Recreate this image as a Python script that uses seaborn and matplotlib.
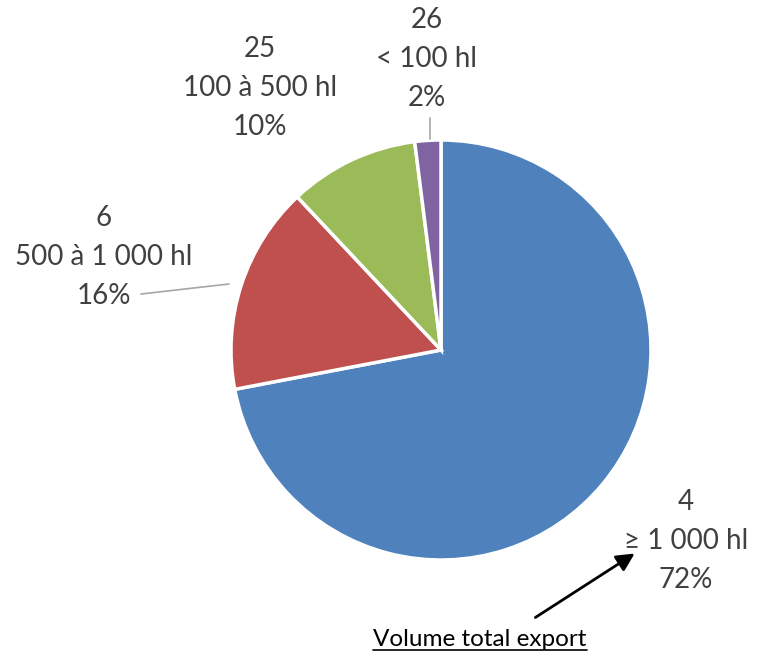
import matplotlib
matplotlib.use("Agg")
import matplotlib.pyplot as plt
import seaborn as sns

sns.set_theme(style="white")
plt.rcParams['font.family'] = ['Lato', 'DejaVu Sans']

counts = [4, 6, 25, 26]
categories = ["≥ 1 000 hl", "500 à 1 000 hl", "100 à 500 hl", "< 100 hl"]
shares = [72, 16, 10, 2]
colors = ["#4F81BD", "#C0504D", "#9BBB59", "#8064A2"]

W, H = 760, 657
fig = plt.figure(figsize=(W / 100, H / 100), dpi=100)
ax = fig.add_axes([0, 0, 1, 1])
ax.set_xlim(0, W)
ax.set_ylim(0, H)
ax.set_aspect("equal")
ax.axis("off")

cx, cy, r = 441, H - 350, 210
ax.pie(shares, colors=colors, startangle=90, counterclock=False,
       center=(cx, cy), radius=r, frame=True,
       wedgeprops=dict(edgecolor="white", linewidth=2.5))
ax.set_xlim(0, W)
ax.set_ylim(0, H)
ax.axis("off")

txt_color = "#404040"
label_pos = [(686, H - 541), (104, H - 257), (260, H - 88), (427, H - 59)]
for n, cat, s, (x, y) in zip(counts, categories, shares, label_pos):
    ax.text(x, y, f"{n}\n{cat}\n{s}%", ha="center", va="center",
            fontsize=20, color=txt_color, linespacing=1.62)

# leader lines
ax.plot([141, 229], [H - 294, H - 284], color="#A6A6A6", lw=1.2)
ax.plot([430, 430], [H - 118, H - 139], color="#A6A6A6", lw=1.2)

# arrow + caption
ax.annotate("", xy=(637, H - 552), xytext=(533, H - 619),
            arrowprops=dict(arrowstyle="-|>,head_length=0.9,head_width=0.45",
                            color="black", lw=2))
cap = ax.text(480, H - 640, "Volume total export", ha="center", va="center",
              fontsize=17.5, color="black")
fig.canvas.draw()
bb = cap.get_window_extent().transformed(ax.transData.inverted())
ax.plot([bb.x0, bb.x1], [bb.y0 + 1, bb.y0 + 1], color="black", lw=1.2)

fig.savefig("out.png", dpi=100)
